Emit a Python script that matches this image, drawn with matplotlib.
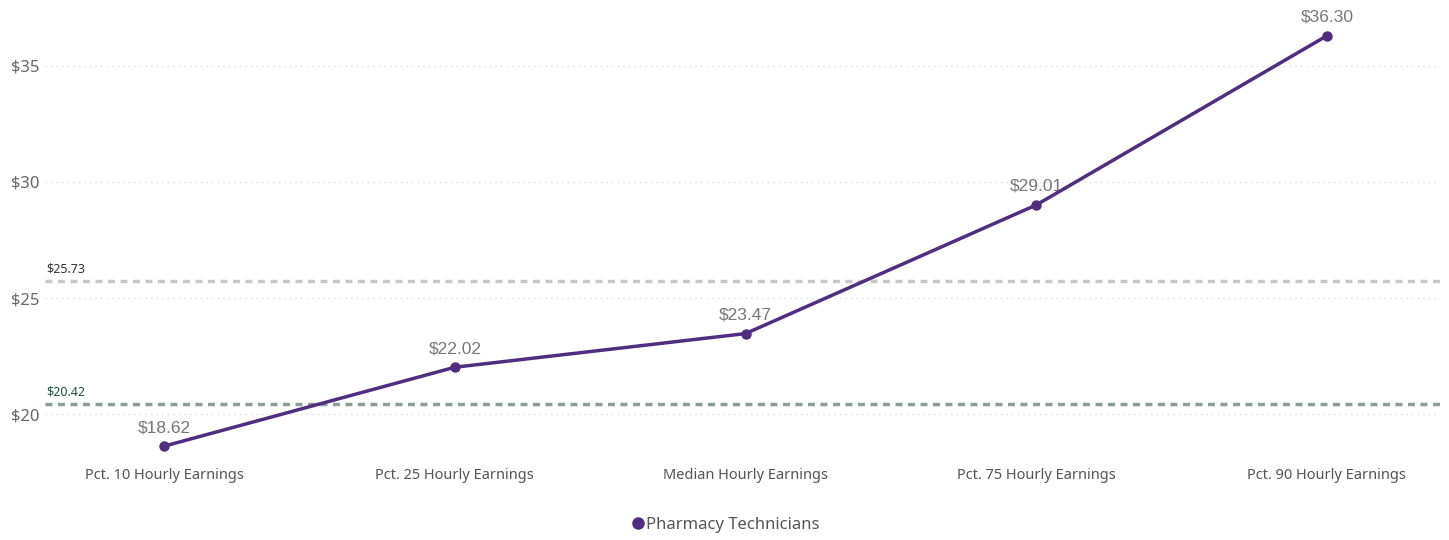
import matplotlib
matplotlib.use('Agg')
import matplotlib.pyplot as plt
from matplotlib.lines import Line2D

plt.rcParams['font.family'] = ['Noto Sans', 'DejaVu Sans']

# data
categories = ['Pct. 10 Hourly Earnings', 'Pct. 25 Hourly Earnings', 'Median Hourly Earnings',
              'Pct. 75 Hourly Earnings', 'Pct. 90 Hourly Earnings']
earnings = [18.62, 22.02, 23.47, 29.01, 36.30]
series_name = 'Pharmacy Technicians'
ref_values = [25.73, 20.42]
y_ticks = [20, 25, 30, 35]

purple = '#4F2D7F'
ref_colors = ['#C8C8C8', '#8A9E95']
ref_label_colors = ['#333333', '#1F4E3D']

fig = plt.figure(figsize=(14.49, 5.4), dpi=100)
ax = fig.add_axes([0.031, 0.157, 0.963, 0.797])

x = list(range(len(categories)))
ax.plot(x, earnings, color=purple, lw=2.5, marker='o', ms=6.5, zorder=5)

for xi, v in zip(x, earnings):
    ax.annotate('${:.2f}'.format(v), (xi, v), xytext=(0, 8), textcoords='offset points',
                ha='center', va='bottom', fontsize=12.5, color='#777777',
                family=['Liberation Sans', 'DejaVu Sans'])

for v, c, lc in zip(ref_values, ref_colors, ref_label_colors):
    ax.axhline(v, color=c, lw=2.5, ls=(0, (2, 1.6)), zorder=3)
    ax.text(-0.405, v + 0.25, '${:.2f}'.format(v), fontsize=9, color=lc, ha='left', va='bottom')

ax.set_xlim(-0.41, 4.39)
ax.set_ylim(18.23, 36.77)
ax.set_yticks(y_ticks)
ax.set_yticklabels(['${}'.format(t) for t in y_ticks])
ax.set_xticks(x)
ax.set_xticklabels(categories)
ax.grid(axis='y', color='#DDDDDD', ls=(0, (1, 3)), lw=1)
ax.tick_params(axis='y', length=0, labelsize=12, labelcolor='#666666', pad=4)
ax.tick_params(axis='x', length=0, labelsize=10.5, labelcolor='#555555', pad=9)
for s in ax.spines.values():
    s.set_visible(False)

handle = Line2D([], [], color=purple, marker='o', ls='', ms=8)
fig.legend([handle], [series_name], loc='center', bbox_to_anchor=(0.5, 0.028), frameon=False,
           fontsize=12, labelcolor='#555555', handletextpad=0.0, handlelength=1.0)

fig.savefig('out.png', dpi=100)
